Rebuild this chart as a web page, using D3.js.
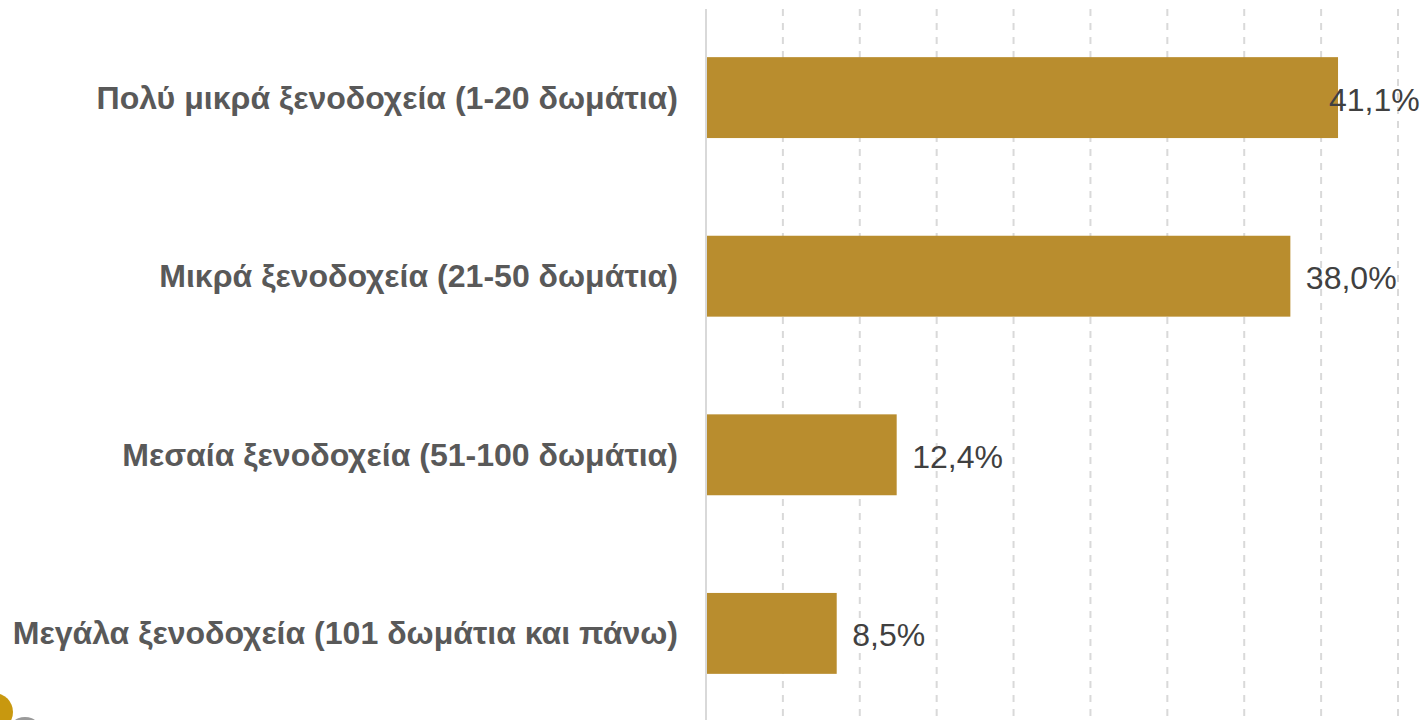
<!DOCTYPE html>
<html>
<head>
<meta charset="utf-8">
<script src="https://cdn.jsdelivr.net/npm/d3@7"></script>
<style>
  html, body { margin: 0; padding: 0; background: #fff; overflow: hidden; }
  svg { display: block; font-family: "Liberation Sans", Arial, sans-serif; }
</style>
</head>
<body>
<svg id="chart" width="1422" height="720"></svg>
<script>
const categories = [
  'Πολύ μικρά ξενοδοχεία (1-20 δωμάτια)',
  'Μικρά ξενοδοχεία (21-50 δωμάτια)',
  'Μεσαία ξενοδοχεία (51-100 δωμάτια)',
  'Μεγάλα ξενοδοχεία (101 δωμάτια και πάνω)'
];
const values = [41.1, 38.0, 12.4, 8.5];
const valueLabels = ['41,1%', '38,0%', '12,4%', '8,5%'];
const gridTicks = [5, 10, 15, 20, 25, 30, 35, 40, 45];

const chart = d3.select('#chart');

// 1- scales
const x = d3.scaleLinear().domain([0, 45]).range([706, 1398]);
const y = d3.scaleBand().domain(categories).range([8.3, 722.7]).paddingInner(0.547).paddingOuter(0.2735);

const axisTop = 9;
const axisBottom = 720;

// 2- dashed gridlines
chart.append('g')
  .selectAll('line')
  .data(gridTicks)
  .join('line')
  .attr('x1', d => x(d))
  .attr('x2', d => x(d))
  .attr('y1', axisTop)
  .attr('y2', axisBottom)
  .attr('stroke', '#d9d9d9')
  .attr('stroke-width', 2)
  .attr('stroke-dasharray', '7 7');

// 3- solid zero line
chart.append('line')
  .attr('x1', x(0))
  .attr('x2', x(0))
  .attr('y1', axisTop)
  .attr('y2', axisBottom)
  .attr('stroke', '#d9d9d9')
  .attr('stroke-width', 2);

// 4- bars
chart.append('g')
  .selectAll('rect')
  .data(values)
  .join('rect')
  .attr('x', x(0) + 1)
  .attr('y', (d, i) => y(categories[i]))
  .attr('width', d => x(d) - x(0) - 1)
  .attr('height', y.bandwidth())
  .attr('fill', '#b98d2e');

// 5- category labels
chart.append('g')
  .selectAll('text')
  .data(categories)
  .join('text')
  .attr('x', 678)
  .attr('y', d => y(d) + y.bandwidth() / 2 + 11)
  .attr('text-anchor', 'end')
  .attr('font-size', 32.05)
  .attr('font-weight', 700)
  .attr('fill', '#595959')
  .text(d => d);

// 6- value labels
chart.append('g')
  .selectAll('text')
  .data(values)
  .join('text')
  .attr('x', (d, i) => i === 0 ? x(d) - 9 : x(d) + 15.5)
  .attr('y', (d, i) => y(categories[i]) + y.bandwidth() / 2 + 13)
  .attr('font-size', 32)
  .attr('fill', '#404040')
  .text((d, i) => valueLabels[i]);

// 7- corner of the logo cut off by the picture edge
chart.append('circle').attr('cx', 25).attr('cy', 735).attr('r', 18).attr('fill', '#9a9a9a');
chart.append('circle').attr('cx', -6).attr('cy', 712).attr('r', 19).attr('fill', '#c8980f');
</script>
</body>
</html>
